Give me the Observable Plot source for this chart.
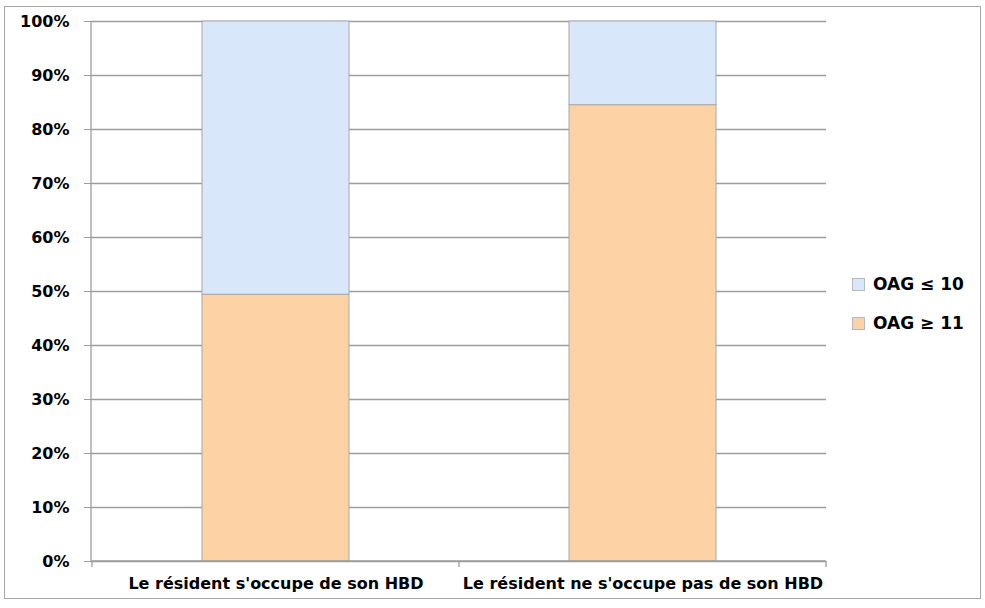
<!DOCTYPE html>
<html>
<head>
<meta charset="utf-8">
<script src="https://cdn.jsdelivr.net/npm/d3@7"></script>
<script src="https://cdn.jsdelivr.net/npm/@observablehq/plot@0.6"></script>
<style>
  html, body { margin: 0; padding: 0; background: #fff; }
  #wrap { position: relative; width: 985px; height: 608px; overflow: hidden; }
  #border { position: absolute; left: 4px; top: 6px; width: 977px; height: 593px; border: 1.5px solid #a6a6a6; box-sizing: border-box; }
  #chart { position: absolute; left: 0; top: 0; }
  #legend { position: absolute; left: 852px; top: 272px; font-family: "DejaVu Sans", sans-serif; font-weight: bold; font-size: 17px; color: #000; }
  .item { display: flex; align-items: center; height: 24px; margin-bottom: 15px; }
  .sw { width: 13px; height: 13px; margin-right: 8px; box-sizing: border-box; border: 1px solid #b8b8b8; }
</style>
</head>
<body>
<div id="wrap">
  <div id="border"></div>
  <div id="chart"></div>
  <div id="legend"></div>
</div>
<script>
const categories = ["Le résident s'occupe de son HBD", "Le résident ne s'occupe pas de son HBD"];
const seriesNames = ["OAG ≥ 11", "OAG ≤ 10"];
const seriesColors = ["#fdd3a6", "#d9e7fb"];
const oag11 = [0.494, 0.845];
const oag10 = [0.506, 0.155];
const yTicks = [0, 0.1, 0.2, 0.3, 0.4, 0.5, 0.6, 0.7, 0.8, 0.9, 1.0];
const legendOrder = ["OAG ≤ 10", "OAG ≥ 11"];

const data = [];
categories.forEach((c, i) => {
  data.push({cat: c, series: seriesNames[0], value: oag11[i]});
  data.push({cat: c, series: seriesNames[1], value: oag10[i]});
});

const gridColor = "#9c9c9c";

// custom mark: left axis line + category boundary ticks on the x axis
function axisFrame(index, scales, values, dims) {
  const g = d3.create("svg:g");
  const x = scales.x, y = scales.y;
  const bw = x.bandwidth ? x.bandwidth() : 0;
  const step = x.step ? x.step() : (x(categories[1]) - x(categories[0]));
  const pad = (step - bw) / 2;
  const y0 = y(0), y1 = y(1);
  const left = dims.marginLeft, right = dims.width - dims.marginRight;
  g.append("line").attr("x1", left).attr("x2", left).attr("y1", y1).attr("y2", y0)
    .attr("stroke", gridColor).attr("stroke-width", 1.3);
  g.append("line").attr("x1", left).attr("x2", right).attr("y1", y0).attr("y2", y0)
    .attr("stroke", gridColor).attr("stroke-width", 1.3);
  const bounds = categories.map(c => x(c) - pad);
  bounds.push(x(categories[categories.length - 1]) + bw + pad);
  bounds.forEach(b => {
    g.append("line").attr("x1", b).attr("x2", b).attr("y1", y0).attr("y2", y0 + 6)
      .attr("stroke", gridColor).attr("stroke-width", 1.3);
  });
  return g.node();
}

const chart = Plot.plot({
  width: 985,
  height: 608,
  marginLeft: 91,
  marginRight: 159,
  marginTop: 21,
  marginBottom: 47,
  style: {fontFamily: "DejaVu Sans, sans-serif", background: "transparent", color: "#000"},
  x: {domain: categories, paddingInner: 0.6, paddingOuter: 0.3, label: null},
  y: {domain: [0, 1], label: null},
  color: {domain: seriesNames, range: seriesColors},
  marks: [
    Plot.gridY(yTicks, {stroke: gridColor, strokeOpacity: 1, strokeWidth: 1.3}),
    Plot.barY(data, {x: "cat", y: "value", fill: "series", order: seriesNames, stroke: "#a8a8a8", strokeWidth: 1}),
    axisFrame,
    Plot.axisY({ticks: yTicks, tickFormat: d => Math.round(d * 100) + "%", tickSize: 7, tickPadding: 15,
      stroke: gridColor, strokeOpacity: 1, fontSize: 16, fontWeight: "bold", fill: "#000", label: null}),
    Plot.axisX({tickSize: 0, tickPadding: 16, fontSize: 16, fontWeight: "bold", fill: "#000", label: null})
  ]
});
document.getElementById("chart").appendChild(chart);

const legend = document.getElementById("legend");
legendOrder.forEach(name => {
  const item = document.createElement("div");
  item.className = "item";
  const sw = document.createElement("span");
  sw.className = "sw";
  sw.style.background = seriesColors[seriesNames.indexOf(name)];
  const t = document.createElement("span");
  t.textContent = name;
  item.appendChild(sw);
  item.appendChild(t);
  legend.appendChild(item);
});
</script>
</body>
</html>
